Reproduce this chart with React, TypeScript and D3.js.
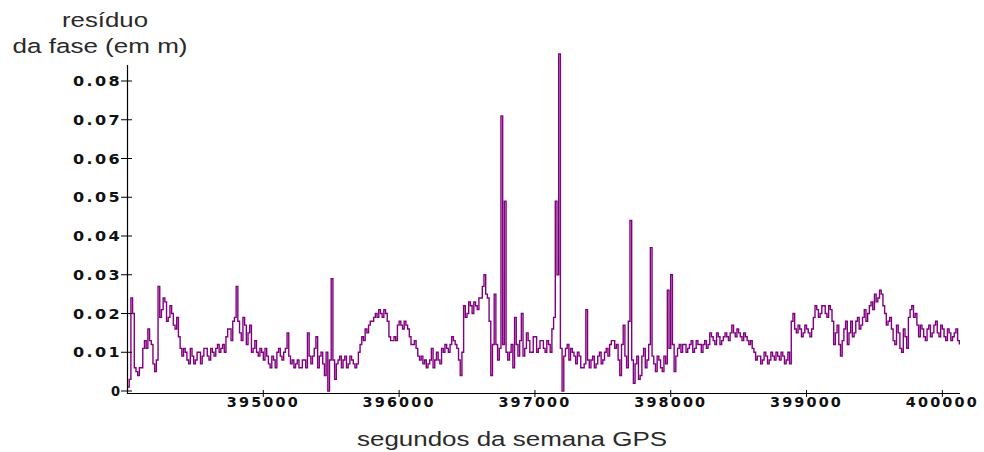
import React from 'react';
import * as d3 from 'd3';

// phase residual (m), read every 25 s from 394000 s
const T0 = 394000;
const STEP = 25;
const residuals = [
  0.001, 0.024, 0.006, 0.004, 0.006, 0.013, 0.016, 0.012, 0.005, 0.027,
  0.021, 0.023, 0.019, 0.020, 0.016, 0.014, 0.009, 0.010, 0.007, 0.009,
  0.008, 0.010, 0.009, 0.011, 0.008, 0.010, 0.011, 0.010, 0.012, 0.014,
  0.016, 0.018, 0.027, 0.015, 0.019, 0.012, 0.017, 0.011, 0.010, 0.011,
  0.008, 0.009, 0.006, 0.008, 0.010, 0.009, 0.010, 0.015, 0.007, 0.006,
  0.008, 0.006, 0.008, 0.015, 0.007, 0.011, 0.006, 0.010, 0.004, 0.000,
  0.029, 0.003, 0.008, 0.006, 0.009, 0.007, 0.008, 0.006, 0.010, 0.014,
  0.016, 0.017, 0.018, 0.020, 0.021, 0.019, 0.020, 0.014, 0.013, 0.013,
  0.018, 0.016, 0.017, 0.014, 0.012, 0.011, 0.008, 0.007, 0.006, 0.008,
  0.006, 0.010, 0.007, 0.010, 0.011, 0.012, 0.013, 0.011, 0.004, 0.022,
  0.020, 0.022, 0.023, 0.021, 0.024, 0.030, 0.024, 0.004, 0.025, 0.008,
  0.071, 0.049, 0.008, 0.012, 0.019, 0.009, 0.020, 0.011, 0.013, 0.010,
  0.014, 0.011, 0.013, 0.010, 0.012, 0.016, 0.049, 0.087, 0.000, 0.011,
  0.008, 0.010, 0.007, 0.009, 0.006, 0.021, 0.006, 0.009, 0.007, 0.010,
  0.008, 0.011, 0.012, 0.013, 0.012, 0.004, 0.017, 0.006, 0.044, 0.002,
  0.009, 0.004, 0.011, 0.008, 0.037, 0.007, 0.009, 0.006, 0.009, 0.026,
  0.030, 0.005, 0.011, 0.010, 0.012, 0.011, 0.013, 0.011, 0.012, 0.010,
  0.013, 0.012, 0.014, 0.012, 0.014, 0.013, 0.015, 0.013, 0.017, 0.014,
  0.015, 0.013, 0.014, 0.012, 0.011, 0.008, 0.009, 0.008, 0.009, 0.008,
  0.009, 0.010, 0.008, 0.009, 0.008, 0.007, 0.020, 0.015, 0.016, 0.015,
  0.016, 0.014, 0.019, 0.021, 0.020, 0.022, 0.019, 0.021, 0.012, 0.017,
  0.009, 0.016, 0.012, 0.018, 0.015, 0.019, 0.017, 0.021, 0.020, 0.023,
  0.025, 0.024, 0.025, 0.020, 0.018, 0.016, 0.012, 0.015, 0.010, 0.014,
  0.019, 0.022, 0.020, 0.014, 0.016, 0.013, 0.017, 0.015, 0.018, 0.014,
  0.016, 0.013, 0.015, 0.014, 0.016, 0.012,
];

// readings half-way between the ones above (other edge of the noisy band)
const residualsMid = [
  0.003, 0.020, 0.005, 0.006, 0.011, 0.011, 0.013, 0.007, 0.008, 0.019,
  0.024, 0.018, 0.022, 0.017, 0.019, 0.011, 0.011, 0.008, 0.011, 0.007,
  0.010, 0.007, 0.011, 0.009, 0.011, 0.009, 0.012, 0.011, 0.010, 0.016,
  0.013, 0.019, 0.018, 0.013, 0.017, 0.015, 0.010, 0.013, 0.009, 0.010,
  0.011, 0.007, 0.009, 0.006, 0.011, 0.008, 0.011, 0.009, 0.008, 0.007,
  0.006, 0.008, 0.006, 0.009, 0.009, 0.014, 0.009, 0.007, 0.010, 0.008,
  0.008, 0.007, 0.009, 0.008, 0.006, 0.009, 0.007, 0.007, 0.012, 0.013,
  0.015, 0.018, 0.019, 0.019, 0.020, 0.021, 0.018, 0.013, 0.014, 0.017,
  0.017, 0.018, 0.016, 0.012, 0.013, 0.009, 0.009, 0.008, 0.007, 0.011,
  0.008, 0.008, 0.011, 0.012, 0.010, 0.014, 0.012, 0.008, 0.010, 0.019,
  0.023, 0.020, 0.022, 0.024, 0.027, 0.025, 0.018, 0.012, 0.012, 0.011,
  0.012, 0.010, 0.010, 0.006, 0.012, 0.013, 0.009, 0.015, 0.010, 0.014,
  0.010, 0.013, 0.011, 0.013, 0.010, 0.019, 0.030, 0.011, 0.009, 0.012,
  0.011, 0.009, 0.010, 0.006, 0.007, 0.008, 0.008, 0.006, 0.009, 0.007,
  0.010, 0.009, 0.013, 0.011, 0.008, 0.012, 0.009, 0.018, 0.008, 0.007,
  0.003, 0.009, 0.006, 0.012, 0.009, 0.005, 0.008, 0.005, 0.007, 0.011,
  0.012, 0.009, 0.012, 0.012, 0.010, 0.012, 0.010, 0.013, 0.012, 0.012,
  0.011, 0.015, 0.013, 0.015, 0.012, 0.014, 0.014, 0.015, 0.015, 0.016,
  0.014, 0.015, 0.013, 0.013, 0.010, 0.009, 0.007, 0.010, 0.007, 0.010,
  0.008, 0.009, 0.010, 0.007, 0.010, 0.018, 0.016, 0.017, 0.014, 0.017,
  0.015, 0.016, 0.022, 0.019, 0.022, 0.020, 0.022, 0.018, 0.015, 0.012,
  0.013, 0.018, 0.015, 0.014, 0.018, 0.016, 0.019, 0.018, 0.022, 0.021,
  0.023, 0.026, 0.022, 0.017, 0.019, 0.013, 0.017, 0.011, 0.016, 0.011,
  0.021, 0.019, 0.017, 0.017, 0.014, 0.016, 0.014, 0.017, 0.015, 0.017,
  0.014, 0.016, 0.013, 0.015, 0.013,
];

const yTicks = [0, 0.01, 0.02, 0.03, 0.04, 0.05, 0.06, 0.07, 0.08];
const yTickLabels = ['0', '0.01', '0.02', '0.03', '0.04', '0.05', '0.06', '0.07', '0.08'];
const xTicks = [395000, 396000, 397000, 398000, 399000, 400000];

const W = 984;
const H = 452;

type Pt = { t: number; v: number };

export default function App() {
  const x = d3.scaleLinear().domain([394000, 400130]).range([127.5, 960]);
  const y = d3.scaleLinear().domain([0, 0.08]).range([391, 81]);

  // interleave the two sets of readings in time order
  const points: Pt[] = [];
  residuals.forEach((v, i) => {
    points.push({ t: T0 + i * STEP, v });
    if (i < residualsMid.length) points.push({ t: T0 + i * STEP + STEP / 2, v: residualsMid[i] });
  });

  const line = d3
    .line<Pt>()
    .x((d) => x(d.t))
    .y((d) => y(d.v))
    .curve(d3.curveStepAfter);

  const tickFont = { fontFamily: '"DejaVu Sans", sans-serif', fontWeight: 'bold', fontSize: 13.5 };
  const titleFont = { fontFamily: '"Liberation Sans", Arial, sans-serif', fontSize: 20.5 };

  return (
    <svg width={W} height={H} style={{ position: 'absolute', left: 0, top: 0, background: '#fff' }}>
      {/* axis titles */}
      <text x={105} y={27} textAnchor="middle" fill="#2a2a2a" textLength={86} lengthAdjust="spacingAndGlyphs" style={titleFont}>
        resíduo
      </text>
      <text x={100} y={53} textAnchor="middle" fill="#2a2a2a" textLength={175} lengthAdjust="spacingAndGlyphs" style={titleFont}>
        da fase (em m)
      </text>
      <text x={512} y={446} textAnchor="middle" fill="#2a2a2a" textLength={310} lengthAdjust="spacingAndGlyphs" style={titleFont}>
        segundos da semana GPS
      </text>

      {/* data */}
      <path d={line(points) ?? ''} fill="none" stroke="#800080" strokeWidth={1.4} />

      {/* y axis */}
      <line x1={127.5} x2={127.5} y1={65} y2={394} stroke="#000" strokeWidth={1.2} />
      {yTicks.map((t, i) => (
        <g key={t} transform={`translate(0,${y(t)})`}>
          <line x1={121} x2={132} stroke="#000" strokeWidth={1} />
          <text
            x={122}
            dy={5}
            textAnchor="end"
            fill="#111"
            textLength={yTickLabels[i].length > 1 ? 49 : 11}
            lengthAdjust="spacingAndGlyphs"
            style={{ ...tickFont, letterSpacing: 2 }}
          >
            {yTickLabels[i]}
          </text>
        </g>
      ))}

      {/* x axis */}
      <line x1={127} x2={960} y1={393.5} y2={393.5} stroke="#000" strokeWidth={1.2} />
      {xTicks.map((t) => (
        <g key={t} transform={`translate(${x(t)},0)`}>
          <line y1={390} y2={397} stroke="#000" strokeWidth={1} />
          <text
            y={407}
            textAnchor="middle"
            fill="#111"
            textLength={73}
            lengthAdjust="spacingAndGlyphs"
            style={{ ...tickFont, letterSpacing: 2 }}
          >
            {d3.format('d')(t)}
          </text>
        </g>
      ))}
    </svg>
  );
}
